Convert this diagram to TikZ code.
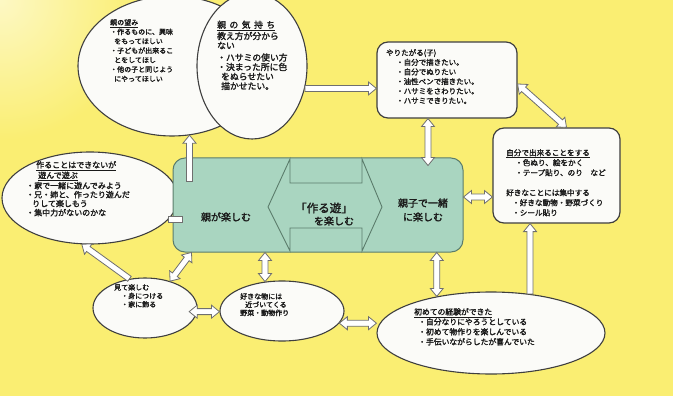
\documentclass[tikz,border=0pt]{standalone}
\usepackage{fontspec}
\setmainfont{Noto Sans CJK JP}[AutoFakeBold=2, BoldFeatures={FakeBold=0.8}]
\usetikzlibrary{calc,shapes.geometric}
\definecolor{bgyellow}{HTML}{FAEE72}
\definecolor{bglight}{HTML}{FDF8C4}
\definecolor{shapeline}{HTML}{3F3F3F}
\definecolor{arrowline}{HTML}{6F6F6F}
\definecolor{shapefill}{HTML}{FBFBF8}
\definecolor{greenfill}{HTML}{A9D5C0}
\definecolor{greenline}{HTML}{5B7C6B}
\definecolor{inkc}{HTML}{1A1A1A}
\newcommand\fsz[2]{\fontsize{#1}{#2}\selectfont}
\tikzset{
  ell/.style={ellipse, draw=shapeline, fill=shapefill, line width=1.1pt, inner sep=0pt},
  rbox/.style={rectangle, rounded corners=11pt, draw=shapeline, fill=shapefill, line width=1.2pt, inner sep=0pt},
  greenbox/.style={rectangle, rounded corners=12pt, draw=greenline, fill=greenfill, line width=1pt, inner sep=0pt},
  hollow/.style={draw=arrowline, fill=white, line width=0.8pt, line join=miter},
  txt/.style={anchor=north west, inner sep=0pt, align=left, text=inkc},
  ctxt/.style={inner sep=0pt, align=center, text=inkc, font=\bfseries\fsz{10}{14}},
}
% hollow block arrow, heads at both ends
\newcommand\arrTwo[2]{\draw[hollow] (#1)
 -- ($(#1)!8pt!(#2)!6.5pt!90:(#2)$)
 -- ($(#1)!8pt!(#2)!3pt!90:(#2)$)
 -- ($(#2)!8pt!(#1)!3pt!-90:(#1)$)
 -- ($(#2)!8pt!(#1)!6.5pt!-90:(#1)$)
 -- (#2)
 -- ($(#2)!8pt!(#1)!6.5pt!90:(#1)$)
 -- ($(#2)!8pt!(#1)!3pt!90:(#1)$)
 -- ($(#1)!8pt!(#2)!3pt!-90:(#2)$)
 -- ($(#1)!8pt!(#2)!6.5pt!-90:(#2)$)
 -- cycle;}
% hollow block arrow, head at second end
\newcommand\arrOne[2]{\draw[hollow] ($(#1)!3pt!90:(#2)$)
 -- ($(#2)!8pt!(#1)!3pt!-90:(#1)$)
 -- ($(#2)!8pt!(#1)!6.5pt!-90:(#1)$)
 -- (#2)
 -- ($(#2)!8pt!(#1)!6.5pt!90:(#1)$)
 -- ($(#2)!8pt!(#1)!3pt!90:(#1)$)
 -- ($(#1)!3pt!-90:(#2)$) -- cycle;}
% hollow shaft, no heads
\newcommand\arrNone[2]{\draw[hollow] ($(#1)!3pt!90:(#2)$)
 -- ($(#2)!3pt!-90:(#1)$) -- ($(#2)!3pt!90:(#1)$)
 -- ($(#1)!3pt!-90:(#2)$) -- cycle;}
\begin{document}
\begin{tikzpicture}[x=1pt,y=-1pt]
\useasboundingbox (0,0) rectangle (685,406);
\clip (0,0) rectangle (685,406);
\fill[white] (0,0) rectangle (685,406);
\fill[bgyellow] (0,0) rectangle (673,396);
\shade[inner color=bglight, outer color=bgyellow] (0,0) circle (140);

% shapes
\node[ell, minimum width=188pt, minimum height=140pt] (nozomi) at (172,66) {};
\node[ell, minimum width=110pt, minimum height=146pt] (kimochi) at (252,66) {};
\node[ell, minimum width=176pt, minimum height=92pt] (tsukuru) at (90,198) {};
\node[ell, minimum width=104pt, minimum height=60pt] (miru) at (145,308) {};
\node[ell, minimum width=124pt, minimum height=60pt] (suki) at (282,311) {};
\node[ell, minimum width=228pt, minimum height=82pt] (hajime) at (491,333) {};
\node[rbox, minimum width=140pt, minimum height=76pt] (yari) at (447,80) {};
\node[rbox, minimum width=127pt, minimum height=95pt] (jibun) at (556.5,175.5) {};
\node[greenbox, minimum width=290pt, minimum height=94pt] (green) at (318,205) {};
\draw[greenline, line width=0.9pt, fill=greenfill, line join=miter]
  (268,207) -- (290,159) -- (290,183) -- (362,183) -- (362,159) -- (382,207)
  -- (362,251) -- (362,228) -- (290,228) -- (290,251) -- cycle;

% connector end points
\coordinate (a1s) at (kimochi.-23.8);
\coordinate (a1e) at (a1s -| yari.west);
\coordinate (a2s) at ($(yari.east)+(0,4)$);
\coordinate (a2e) at ($(jibun.north)+(10,0)$);
\coordinate (a3s) at ($(yari.south)+(-19,0)$);
\coordinate (a3e) at ($(a3s |- green.north)+(0,8)$);
\coordinate (a4e) at (hajime.146);
\coordinate (a4s) at (a4e |- green.south);
\coordinate (a5s) at (hajime.45);
\coordinate (a5e) at (a5s |- jibun.south);
\coordinate (a6s) at ($(green.east)+(0,-8)$);
\coordinate (a6e) at (a6s -| jibun.west);
\coordinate (a7s) at ($(green.north west)+(17,24)$);
\coordinate (a7e) at (a7s |- nozomi.-75);
\coordinate (a8s) at (tsukuru.-15);
\coordinate (a8e) at ($(a8s -| green.west)+(10,0)$);
\coordinate (a9s) at (miru.118);
\coordinate (a9e) at (tsukuru.-100);
\coordinate (a10s) at ($(green.south west)+(19,0)$);
\coordinate (a10e) at (miru.47);
\coordinate (a11e) at (suki.120);
\coordinate (a11s) at (a11e |- green.south);
\coordinate (a12s) at ($(miru.-4)+(-8,0)$);
\coordinate (a12e) at (a12s -| suki.west);
\coordinate (a13s) at (suki.-12);
\coordinate (a13e) at (a13s -| hajime.west);

% connectors
\arrOne{a1s}{a1e}
\arrTwo{a2s}{a2e}
\arrTwo{a3s}{a3e}
\arrTwo{a4s}{a4e}
\arrOne{a5s}{a5e}
\arrTwo{a6s}{a6e}
\arrOne{a7s}{a7e}
\arrNone{a8s}{a8e}
\arrOne{a9s}{a9e}
\arrTwo{a10s}{a10e}
\arrTwo{a11s}{a11e}
\arrTwo{a12s}{a12e}
\arrTwo{a13s}{a13e}

% texts
\node[txt, font=\bfseries\fsz{7}{9.4}] (tnozomi) at (110,19)
 {\underline{親の望み}\\ ・作るものに、興味\\ \hspace*{4pt}をもってほしい\\ ・子どもが出来るこ\\ \hspace*{4pt}とをしてほし\\ ・他の子と同じよう\\ \hspace*{4pt}にやってほしい};
\node[txt, font=\bfseries\fsz{8.8}{9.5}] (tkimochi) at (217,20.5)
 {\underline{親\hspace{3.5pt}の\hspace{3.5pt}気\hspace{3.5pt}持\hspace{3.5pt}ち}\\ 教え方が分から\\ ない\\[2.5pt] ・ハサミの使い方\\ ・決まった所に色\\ \hspace*{4pt}をぬらせたい\\ \hspace*{4pt}描かせたい。};
\node[txt, font=\bfseries\fsz{7.5}{9.6}] (tyari) at (386,49)
 {やりたがる(子)\\ \hspace*{10pt}・自分で描きたい。\\ \hspace*{10pt}・自分でぬりたい\\ \hspace*{10pt}・油性ペンで描きたい。\\ \hspace*{10pt}・ハサミをさわりたい。\\ \hspace*{10pt}・ハサミできりたい。};
\node[txt, font=\bfseries\fsz{7.6}{10}] (tjibun) at (506,149)
 {\underline{自分で出来ることをする}\\ \hspace*{9pt}・色ぬり、絵をかく\\ \hspace*{9pt}・テープ貼り、のり　など\\[10pt] 好きなことには集中する\\ \hspace*{6pt}・好きな動物・野菜づくり\\ \hspace*{6pt}・シール貼り};
\node[txt, font=\bfseries\fsz{8}{9}] (ttsukuru) at (26,161)
 {\hspace*{10pt}\underline{作ることはできないが}\\ \hspace*{12pt}\underline{遊んで遊ぶ}\\ ・家で一緒に遊んでみよう\\ ・兄・姉と、作ったり遊んだ\\ \hspace*{6pt}りして楽しもう\\ ・集中力がないのかな};
\node[txt, font=\bfseries\fsz{7}{8.5}] (tmiru) at (114,284)
 {見て楽しむ\\ \hspace*{7pt}・身につける\\ \hspace*{7pt}・家に飾る};
\node[txt, font=\bfseries\fsz{7}{8.2}] (tsuki) at (240,293)
 {好きな物には\\ \hspace*{5pt}近づいてくる\\ 野菜・動物作り};
\node[txt, font=\bfseries\fsz{7.8}{10}] (thajime) at (414,308)
 {\underline{初めての経験ができた}\\ \hspace*{4pt}・自分なりにやろうとしている\\ \hspace*{4pt}・初めて物作りを楽しんでいる\\ \hspace*{4pt}・手伝いながらしたが喜んでいた};
\node[ctxt] (toya) at (226,217) {親が楽しむ};
\node[ctxt, font=\bfseries\fsz{11.5}{13}] (tcenter) at (324,208) {「作る遊」};
\node[ctxt] (tcenterb) at (334,221) {を楽しむ};
\node[ctxt] (toyako) at (423,210) {親子で一緒\\に楽しむ};
\end{tikzpicture}
\end{document}
